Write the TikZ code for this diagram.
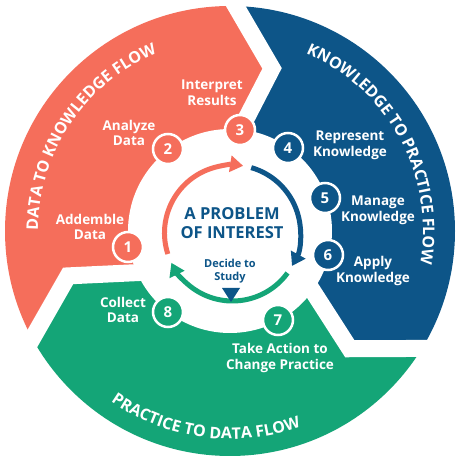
\documentclass[tikz,border=0pt]{standalone}
\usepackage{fontspec}
\setmainfont{Open Sans}
\usetikzlibrary{arrows.meta,decorations.text}
\definecolor{coral}{HTML}{F56E5B}
\definecolor{dblue}{HTML}{0D5588}
\definecolor{dgreen}{HTML}{14A577}
\newcommand\ttlfont{\fontsize{16}{16}\selectfont\bfseries}
\begin{document}
\begin{tikzpicture}[x=1pt,y=1pt,
  numnode/.style={circle,draw=white,line width=2.5pt,minimum size=30pt,inner sep=0pt,text=white,font=\fontsize{15}{15}\selectfont\bfseries},
  lbl/.style={text=white,align=center,font=\fontsize{13.5}{15.8}\selectfont\bfseries,inner sep=0pt},
  gapline/.style={white,line width=17pt,line join=miter},
  inarrow/.style={line width=5pt,-{Triangle[width=16pt,length=13pt]}},
  ttl/.style={decorate,decoration={text along path,text={|\ttlfont|#1},text align=center,text color=white}}]
\useasboundingbox (0,0) rectangle (461,461);
\fill[white] (0,0) rectangle (461,461);
\begin{scope}[shift={(230,230)}]
 \begin{scope}
  \clip (0,0) circle (225pt);
  \foreach \r/\c in {0/coral,-120/dblue,-240/dgreen}{
    \fill[\c,rotate=\r] (0,0) -- (87.7:90pt) -- (75.5:168pt) -- (89.6:240pt) -- (120:320pt) -- (180:320pt) -- (209.6:240pt) -- (195.5:168pt) -- (207.7:90pt) -- cycle;
  }
 \end{scope}
 \fill[white] (0,0) circle (102pt);
 \foreach \r in {0,-120,-240}{
   \draw[gapline,rotate=\r] (87.7:88pt) -- (75.5:168pt) -- (89.6:232pt);
 }
 % inner arrows
 \begin{scope}[shift={(2.5,-2)}]
  \draw[inarrow,coral] (198:68pt) arc[start angle=198,end angle=81,radius=68pt];
  \draw[inarrow,dblue] (74:68pt) arc[start angle=74,end angle=-29,radius=68pt];
  \draw[inarrow,dgreen] (-36:68pt) arc[start angle=-36,end angle=-154,radius=68pt];
 \end{scope}
 % numbered nodes
 \node[numnode,fill=coral] (n1) at (-102,-16) {1};
 \node[numnode,fill=coral] (n2) at (-62,82) {2};
 \node[numnode,fill=coral] (n3) at (10,101) {3};
 \node[numnode,fill=dblue] (n4) at (58,83) {4};
 \node[numnode,fill=dblue] (n5) at (95,33) {5};
 \node[numnode,fill=dblue] (n6) at (98,-24) {6};
 \node[numnode,fill=dgreen] (n7) at (48,-89) {7};
 \node[numnode,fill=dgreen] (n8) at (-62,-81) {8};
 % labels
 \node[lbl] (l1) at (-140,4) {Addemble\\Data};
 \node[lbl] (l2) at (-101,98) {Analyze\\Data};
 \node[lbl] (l3) at (-18,138) {Interpret\\Results};
 \node[lbl] (l4) at (120,86) {Represent\\Knowledge};
 \node[lbl] (l5) at (148,21) {Manage\\Knowledge};
 \node[lbl] (l6) at (143,-40) {Apply\\Knowledge};
 \node[lbl] (l7) at (50,-127) {Take Action to\\Change Practice};
 \node[lbl] (l8) at (-107,-79) {Collect\\Data};
 % centre
 \node[font=\fontsize{16.5}{19}\selectfont\bfseries,text=dblue,align=center] (prob) at (2,7.5) {A PROBLEM\\OF INTEREST};
 \node[font=\fontsize{11}{13}\selectfont\bfseries,text=dblue,align=center] (decide) at (0,-40) {Decide to\\Study};
 \fill[dblue] (-8,-57) -- (10,-57) -- (1,-71) -- cycle;
 % titles
 \path[ttl={DATA TO KNOWLEDGE FLOW}] (206:192pt) arc[start angle=206,end angle=86,radius=192pt];
 \path[ttl={KNOWLEDGE TO PRACTICE FLOW}] (88.5:193pt) arc[start angle=88.5,end angle=-31.5,radius=193pt];
 \path[ttl={PRACTICE TO DATA FLOW}] (202.5:208pt) arc[start angle=202.5,end angle=322.5,radius=208pt];
\end{scope}
\end{tikzpicture}
\end{document}
